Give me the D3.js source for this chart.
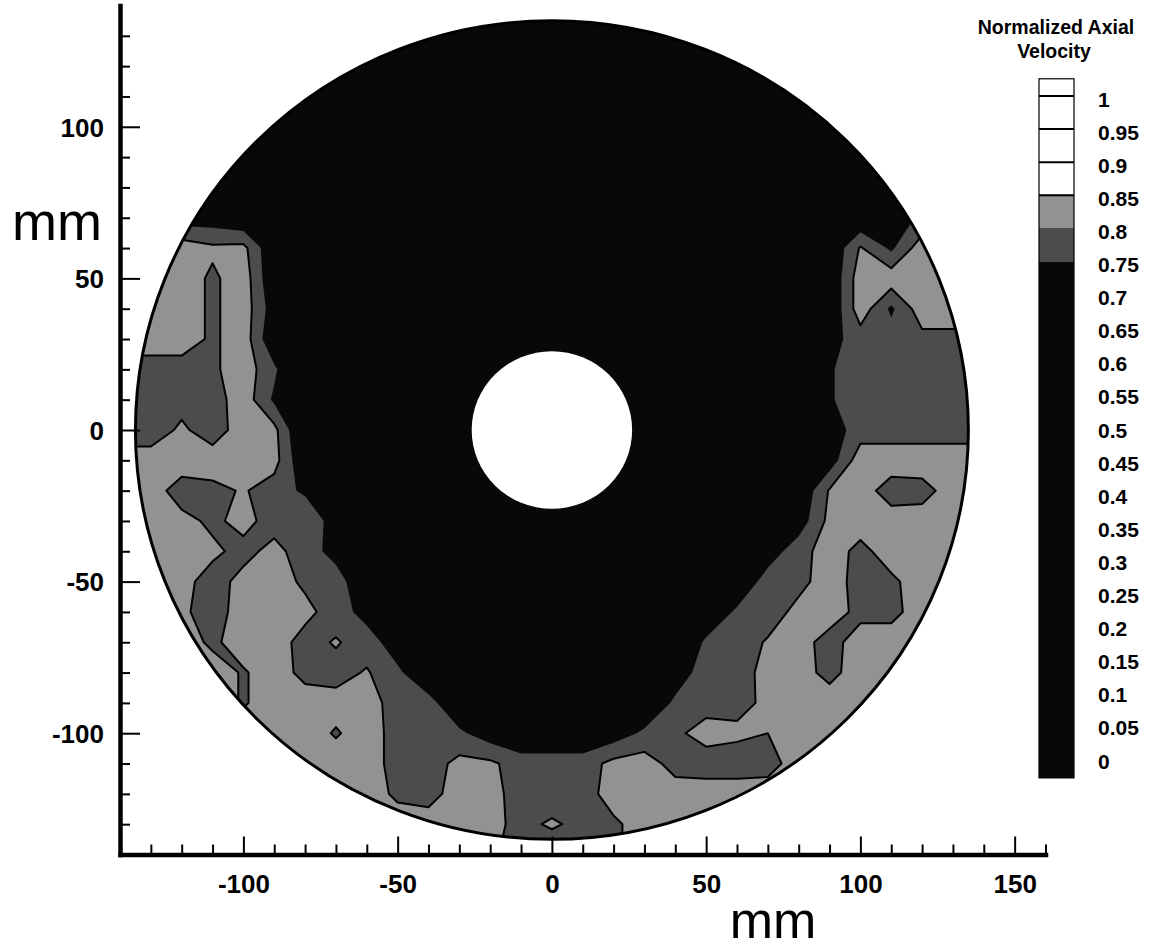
<!DOCTYPE html>
<html>
<head>
<meta charset="utf-8">
<script src="https://cdn.jsdelivr.net/npm/d3@7"></script>
<style>
  html, body { margin: 0; padding: 0; background: #fff; }
  svg { display: block; }
  text { font-family: "Liberation Sans", Arial, Helvetica, sans-serif; }
</style>
</head>
<body>
<svg id="chart" width="1154" height="951"></svg>
<script>
// Measurement grid, mm (10 mm spacing)
const gridX = [-140,-130,-120,-110,-100,-90,-80,-70,-60,-50,-40,-30,-20,-10,0,10,20,30,40,50,60,70,80,90,100,110,120,130,140];
const gridY = [140,130,120,110,100,90,80,70,60,50,40,30,20,10,0,-10,-20,-30,-40,-50,-60,-70,-80,-90,-100,-110,-120,-130,-140];

// Normalized axial velocity, one row per gridY value, one column per gridX value
const velocityRows = [
  /* 140 */ [0.65,0.65,0.65,0.65,0.65,0.65,0.65,0.65,0.65,0.65,0.65,0.65,0.65,0.65,0.65,0.65,0.65,0.65,0.65,0.65,0.65,0.65,0.65,0.65,0.65,0.65,0.65,0.65,0.65],
  /* 130 */ [0.65,0.65,0.65,0.65,0.65,0.65,0.65,0.65,0.65,0.65,0.65,0.65,0.65,0.65,0.65,0.65,0.65,0.65,0.65,0.65,0.65,0.65,0.65,0.65,0.65,0.65,0.65,0.65,0.65],
  /* 120 */ [0.65,0.65,0.65,0.65,0.65,0.65,0.65,0.65,0.65,0.65,0.65,0.65,0.65,0.65,0.65,0.65,0.65,0.65,0.65,0.65,0.65,0.65,0.65,0.65,0.65,0.65,0.65,0.65,0.65],
  /* 110 */ [0.65,0.65,0.65,0.65,0.65,0.65,0.65,0.65,0.65,0.65,0.65,0.65,0.65,0.65,0.65,0.65,0.65,0.65,0.65,0.65,0.65,0.65,0.65,0.65,0.65,0.65,0.65,0.65,0.65],
  /* 100 */ [0.65,0.65,0.65,0.65,0.65,0.65,0.65,0.65,0.65,0.65,0.65,0.65,0.65,0.65,0.65,0.65,0.65,0.65,0.65,0.65,0.65,0.65,0.65,0.65,0.65,0.65,0.65,0.65,0.65],
  /*  90 */ [0.65,0.65,0.65,0.65,0.65,0.65,0.65,0.65,0.65,0.65,0.65,0.65,0.65,0.65,0.65,0.65,0.65,0.65,0.65,0.65,0.65,0.65,0.65,0.65,0.65,0.65,0.65,0.65,0.65],
  /*  80 */ [0.68,0.68,0.68,0.67,0.65,0.65,0.65,0.65,0.65,0.65,0.65,0.65,0.65,0.65,0.65,0.65,0.65,0.65,0.65,0.65,0.65,0.65,0.65,0.65,0.65,0.68,0.70,0.70,0.70],
  /*  70 */ [0.72,0.72,0.72,0.72,0.70,0.66,0.65,0.65,0.65,0.65,0.65,0.65,0.65,0.65,0.65,0.65,0.65,0.65,0.65,0.65,0.65,0.65,0.65,0.66,0.70,0.72,0.76,0.76,0.76],
  /*  60 */ [0.83,0.83,0.83,0.81,0.815,0.70,0.66,0.65,0.65,0.65,0.65,0.65,0.65,0.65,0.65,0.65,0.65,0.65,0.65,0.65,0.65,0.65,0.65,0.70,0.805,0.74,0.83,0.83,0.83],
  /*  50 */ [0.83,0.83,0.83,0.79,0.83,0.70,0.65,0.65,0.65,0.65,0.65,0.65,0.65,0.65,0.65,0.65,0.65,0.65,0.65,0.65,0.65,0.65,0.65,0.70,0.83,0.83,0.83,0.83,0.83],
  /*  40 */ [0.83,0.83,0.83,0.79,0.83,0.72,0.65,0.65,0.65,0.65,0.65,0.65,0.65,0.65,0.65,0.65,0.65,0.65,0.65,0.65,0.65,0.65,0.66,0.70,0.83,0.74,0.83,0.83,0.83],
  /*  30 */ [0.83,0.83,0.83,0.79,0.83,0.70,0.65,0.65,0.65,0.65,0.65,0.65,0.65,0.65,0.65,0.65,0.65,0.65,0.65,0.65,0.65,0.65,0.66,0.73,0.775,0.775,0.785,0.785,0.785],
  /*  20 */ [0.775,0.775,0.775,0.79,0.83,0.76,0.66,0.65,0.65,0.65,0.65,0.65,0.65,0.65,0.65,0.65,0.65,0.65,0.65,0.65,0.65,0.65,0.66,0.745,0.775,0.775,0.775,0.775,0.775],
  /*  10 */ [0.775,0.775,0.78,0.775,0.83,0.74,0.65,0.65,0.65,0.65,0.65,0.65,0.65,0.65,0.65,0.65,0.65,0.65,0.65,0.65,0.65,0.65,0.66,0.745,0.775,0.775,0.775,0.775,0.775],
  /*   0 */ [0.77,0.77,0.81,0.77,0.83,0.815,0.68,0.65,0.65,0.65,0.65,0.65,0.65,0.65,0.65,0.65,0.65,0.65,0.65,0.65,0.65,0.65,0.66,0.72,0.775,0.775,0.775,0.775,0.775],
  /* -10 */ [0.825,0.825,0.83,0.83,0.83,0.82,0.70,0.65,0.65,0.65,0.65,0.65,0.65,0.65,0.65,0.65,0.65,0.65,0.65,0.65,0.65,0.65,0.66,0.72,0.83,0.83,0.83,0.83,0.83],
  /* -20 */ [0.825,0.825,0.775,0.785,0.805,0.775,0.74,0.66,0.65,0.65,0.65,0.65,0.65,0.65,0.65,0.65,0.65,0.65,0.65,0.65,0.65,0.65,0.70,0.805,0.825,0.775,0.78,0.825,0.825],
  /* -30 */ [0.825,0.825,0.815,0.79,0.815,0.78,0.795,0.72,0.65,0.65,0.65,0.65,0.65,0.65,0.65,0.65,0.65,0.65,0.65,0.65,0.65,0.65,0.72,0.815,0.825,0.825,0.825,0.815,0.815],
  /* -40 */ [0.825,0.825,0.825,0.81,0.785,0.815,0.775,0.73,0.65,0.65,0.65,0.65,0.65,0.65,0.65,0.65,0.65,0.65,0.65,0.65,0.65,0.72,0.78,0.825,0.785,0.825,0.825,0.825,0.825],
  /* -50 */ [0.825,0.825,0.815,0.78,0.815,0.825,0.79,0.775,0.70,0.65,0.65,0.65,0.65,0.65,0.65,0.65,0.65,0.65,0.65,0.65,0.70,0.775,0.785,0.825,0.78,0.79,0.825,0.825,0.825],
  /* -60 */ [0.825,0.825,0.81,0.775,0.825,0.825,0.815,0.775,0.73,0.65,0.65,0.65,0.65,0.65,0.65,0.65,0.65,0.65,0.65,0.70,0.76,0.775,0.815,0.825,0.785,0.785,0.825,0.825,0.825],
  /* -70 */ [0.825,0.825,0.825,0.79,0.825,0.825,0.78,0.805,0.775,0.72,0.65,0.65,0.65,0.65,0.65,0.65,0.65,0.65,0.68,0.76,0.775,0.805,0.82,0.78,0.825,0.825,0.825,0.825,0.825],
  /* -80 */ [0.825,0.825,0.825,0.825,0.795,0.825,0.785,0.78,0.805,0.76,0.70,0.65,0.65,0.65,0.65,0.65,0.65,0.65,0.72,0.775,0.78,0.815,0.82,0.785,0.825,0.825,0.825,0.825,0.825],
  /* -90 */ [0.825,0.825,0.825,0.825,0.795,0.825,0.825,0.82,0.825,0.775,0.77,0.70,0.65,0.65,0.65,0.65,0.65,0.70,0.76,0.78,0.785,0.81,0.825,0.825,0.825,0.825,0.825,0.825,0.825],
  /*-100 */ [0.825,0.825,0.825,0.825,0.825,0.825,0.825,0.795,0.825,0.78,0.775,0.76,0.72,0.70,0.70,0.70,0.72,0.76,0.79,0.82,0.81,0.80,0.815,0.825,0.825,0.825,0.825,0.825,0.825],
  /*-110 */ [0.825,0.825,0.825,0.825,0.825,0.825,0.825,0.825,0.825,0.78,0.775,0.815,0.81,0.775,0.775,0.775,0.815,0.825,0.78,0.775,0.775,0.78,0.825,0.825,0.825,0.825,0.825,0.825,0.825],
  /*-120 */ [0.825,0.825,0.825,0.825,0.825,0.825,0.825,0.825,0.825,0.79,0.78,0.825,0.82,0.775,0.78,0.775,0.825,0.825,0.825,0.825,0.825,0.825,0.825,0.825,0.825,0.825,0.825,0.825,0.825],
  /*-130 */ [0.825,0.825,0.825,0.825,0.825,0.825,0.825,0.825,0.825,0.825,0.825,0.825,0.81,0.79,0.805,0.79,0.79,0.825,0.825,0.825,0.825,0.825,0.825,0.825,0.825,0.825,0.825,0.825,0.825],
  /*-140 */ [0.825,0.825,0.825,0.825,0.825,0.825,0.825,0.825,0.825,0.825,0.825,0.825,0.81,0.775,0.775,0.775,0.79,0.825,0.825,0.825,0.825,0.825,0.825,0.825,0.825,0.825,0.825,0.825,0.825]
];

// Contour levels and legend labels
const contourLevels = [0,0.05,0.1,0.15,0.2,0.25,0.3,0.35,0.4,0.45,0.5,0.55,0.6,0.65,0.7,0.75,0.8,0.85,0.9,0.95,1];
const levelLabels = ["0","0.05","0.1","0.15","0.2","0.25","0.3","0.35","0.4","0.45","0.5","0.55","0.6","0.65","0.7","0.75","0.8","0.85","0.9","0.95","1"];
const lineLevels = [0.8, 0.85, 0.9, 0.95, 1];

// Axis ticks (mm)
const xMajorTicks = [-100,-50,0,50,100,150];
const xMinorTicks = [-130,-120,-110,-90,-80,-70,-60,-40,-30,-20,-10,10,20,30,40,60,70,80,90,110,120,130,140,160];
const yMajorTicks = [-100,-50,0,50,100];
const yMinorTicks = [-130,-120,-110,-90,-80,-70,-60,-40,-30,-20,-10,10,20,30,40,60,70,80,90,110,120,130];

// Annulus geometry (mm)
const outerRadius = 135;
const innerRadius = 26;

const svg = d3.select("#chart");

const x = d3.scaleLinear().domain([-140, 160]).range([120, 1045.5]);
const y = d3.scaleLinear().domain([-140, 140]).range([854.5, 5.5]);

// Grey-scale flood: black below 0.75, two greys, white from 0.85 up
const fillColor = d3.scaleThreshold()
  .domain([0.75, 0.8, 0.85])
  .range(["#080808", "#4c4c4c", "#929292", "#ffffff"]);

// ---- contour flood ----
const nx = gridX.length, ny = gridY.length;
const dxStep = gridX[1] - gridX[0];
const dyStep = gridY[1] - gridY[0];
const flat = velocityRows.flat();

const toDataX = c => gridX[0] + (c - 0.5) * dxStep;
const toDataY = r => gridY[0] + (r - 0.5) * dyStep;
const projection = d3.geoTransform({
  point: function (c, r) { this.stream.point(x(toDataX(c)), y(toDataY(r))); }
});
const path = d3.geoPath(projection);

const contourGen = d3.contours().size([nx, ny]);

const defs = svg.append("defs");
defs.append("clipPath").attr("id", "annulus-clip")
  .append("ellipse")
  .attr("cx", x(0)).attr("cy", y(0))
  .attr("rx", x(outerRadius) - x(0)).attr("ry", y(0) - y(outerRadius));

const field = svg.append("g").attr("clip-path", "url(#annulus-clip)");

field.append("rect")
  .attr("x", x(-outerRadius)).attr("y", y(outerRadius))
  .attr("width", x(outerRadius) - x(-outerRadius))
  .attr("height", y(-outerRadius) - y(outerRadius))
  .attr("fill", fillColor(-1));

field.selectAll("path.band")
  .data(contourLevels.map(t => contourGen.contour(flat, t)))
  .join("path")
  .attr("class", "band")
  .attr("d", path)
  .attr("fill", d => fillColor(d.value))
  .attr("fill-rule", "evenodd")
  .attr("stroke", "none");

field.selectAll("path.isoline")
  .data(lineLevels.map(t => contourGen.contour(flat, t)))
  .join("path")
  .attr("class", "isoline")
  .attr("d", path)
  .attr("fill", "none")
  .attr("stroke", "#000")
  .attr("stroke-width", 2)
  .attr("stroke-linejoin", "round");

// outer wall and centre body
svg.append("ellipse")
  .attr("cx", x(0)).attr("cy", y(0))
  .attr("rx", x(outerRadius) - x(0)).attr("ry", y(0) - y(outerRadius))
  .attr("fill", "none").attr("stroke", "#000").attr("stroke-width", 3);

svg.append("ellipse")
  .attr("cx", x(0)).attr("cy", y(0))
  .attr("rx", x(innerRadius) - x(0)).attr("ry", y(0) - y(innerRadius))
  .attr("fill", "#fff").attr("stroke", "none");

// ---- axes ----
const fmt = d => String(d);

const xAxisG = svg.append("g").attr("transform", `translate(0,${y(-140)})`);
xAxisG.call(d3.axisBottom(x).tickValues(xMinorTicks).tickSizeInner(-10).tickSizeOuter(0).tickFormat(""));
const xMajorG = xAxisG.append("g")
  .call(d3.axisBottom(x).tickValues(xMajorTicks).tickSizeInner(-18).tickSizeOuter(0).tickPadding(20).tickFormat(fmt));

const yAxisG = svg.append("g").attr("transform", `translate(${x(-140)},0)`);
yAxisG.call(d3.axisLeft(y).tickValues(yMinorTicks).tickSizeInner(-10).tickSizeOuter(0).tickFormat(""));
const yMajorG = yAxisG.append("g")
  .call(d3.axisLeft(y).tickValues(yMajorTicks).tickSizeInner(-20).tickSizeOuter(0).tickPadding(16).tickFormat(fmt));

svg.selectAll(".domain").attr("stroke", "#000").attr("stroke-width", 4.5).attr("stroke-linecap", "square");
xMajorG.select(".domain").remove();
yMajorG.select(".domain").remove();
svg.selectAll(".tick line").attr("stroke", "#000").attr("stroke-width", 2);
svg.selectAll(".tick text")
  .attr("font-family", "'Liberation Sans', Arial, sans-serif")
  .attr("font-size", 26).attr("font-weight", "bold").attr("fill", "#000");
yMajorG.selectAll(".tick text").attr("dy", "0.36em");

// axis titles
svg.append("text").attr("x", 12).attr("y", 240)
  .attr("font-size", 54).attr("fill", "#000").text("mm");
svg.append("text").attr("x", 773).attr("y", 938).attr("text-anchor", "middle")
  .attr("font-size", 52).attr("fill", "#000").text("mm");

// ---- legend ----
const cb = d3.scaleLinear().domain([0, 1]).range([758, 96]);
const cbX = 1039, cbW = 35;
const cbBottom = -0.03, cbTop = 1.026;
const legend = svg.append("g");

const bandEdges = [cbBottom, ...contourLevels, cbTop];
legend.selectAll("rect.cbband")
  .data(d3.pairs(bandEdges))
  .join("rect")
  .attr("class", "cbband")
  .attr("x", cbX).attr("width", cbW)
  .attr("y", d => cb(d[1]))
  .attr("height", d => cb(d[0]) - cb(d[1]))
  .attr("fill", d => fillColor(d[0]))
  .attr("shape-rendering", "crispEdges");

legend.selectAll("line.cbline")
  .data(lineLevels.filter(v => v > 0.8))
  .join("line")
  .attr("class", "cbline")
  .attr("x1", cbX).attr("x2", cbX + cbW)
  .attr("y1", d => cb(d)).attr("y2", d => cb(d))
  .attr("stroke", "#000").attr("stroke-width", 2);

legend.append("rect")
  .attr("x", cbX).attr("y", cb(cbTop))
  .attr("width", cbW).attr("height", cb(cbBottom) - cb(cbTop))
  .attr("fill", "none").attr("stroke", "#000").attr("stroke-width", 1.2);

legend.selectAll("text.cblabel")
  .data(contourLevels)
  .join("text")
  .attr("class", "cblabel")
  .attr("x", 1098)
  .attr("y", d => cb(d) + 3)
  .attr("dy", "0.36em")
  .attr("font-size", 21).attr("font-weight", "bold").attr("fill", "#000")
  .text((d, i) => levelLabels[i]);

legend.append("text").attr("x", 1056).attr("y", 34).attr("text-anchor", "middle")
  .attr("font-size", 19.5).attr("font-weight", "bold").text("Normalized Axial");
legend.append("text").attr("x", 1054).attr("y", 58).attr("text-anchor", "middle")
  .attr("font-size", 19.5).attr("font-weight", "bold").text("Velocity");
</script>
</body>
</html>
